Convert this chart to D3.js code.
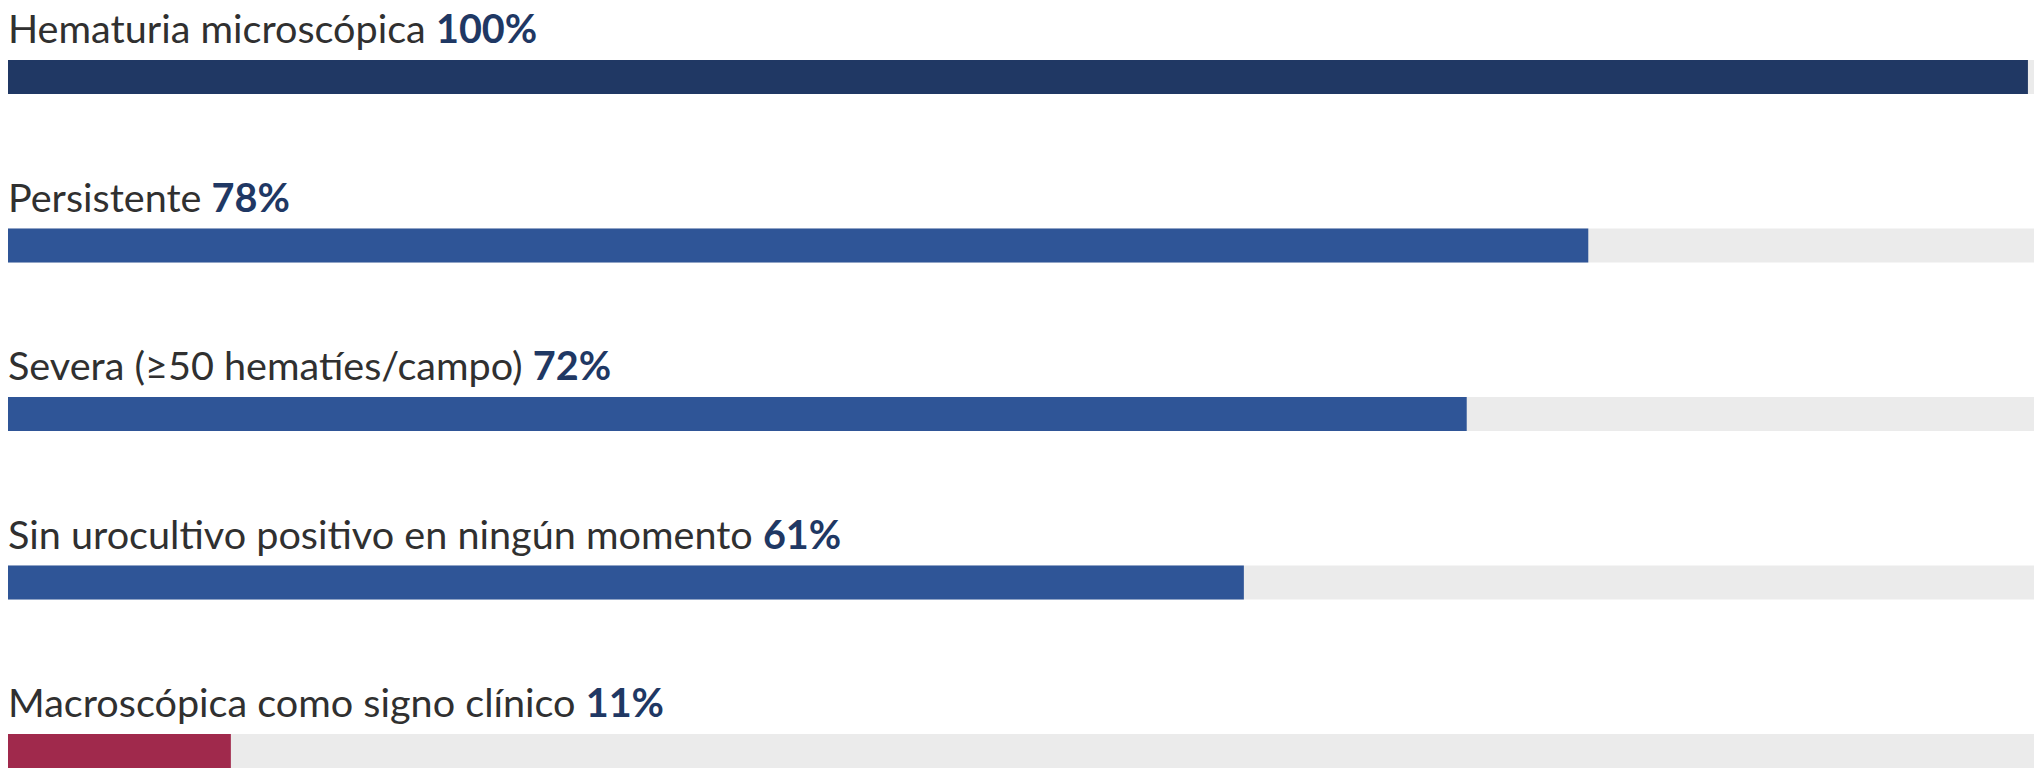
<!DOCTYPE html>
<html>
<head>
<meta charset="utf-8">
<script src="https://cdn.jsdelivr.net/npm/d3@7"></script>
<style>
  body { margin: 0; background: #fff; }
  svg { display: block; }
</style>
</head>
<body>
<div id="chart"></div>
<script>
// data
var categories = [
  'Hematuria microscópica',
  'Persistente',
  'Severa (≥50 hematíes/campo)',
  'Sin urocultivo positivo en ningún momento',
  'Macroscópica como signo clínico'
];
var values = [99.7, 78, 72, 61, 11];
var barColors = ['#203864', '#2F5597', '#2F5597', '#2F5597', '#A0294C'];

var w = 2040,
    h = 778;

var svg = d3.select('#chart')
    .append('svg')
    .attr('width', w)
    .attr('height', h);

var x = d3.scaleLinear()
    .domain([0, 100])
    .range([8, 2034]);

var y = d3.scalePoint()
    .domain(categories)
    .range([60, 734]);

var barH = 34;
var pct = function(v) { return Math.round(v) + '%'; };

var rows = svg.selectAll('.row')
    .data(categories)
    .enter()
    .append('g')
    .attr('class', 'row');

// grey track behind each bar
rows.append('rect')
    .attr('x', x(0))
    .attr('y', function(d) { return y(d); })
    .attr('width', x(100) - x(0))
    .attr('height', barH)
    .attr('fill', '#EBEBEB');

rows.append('rect')
    .attr('x', x(0))
    .attr('y', function(d) { return y(d); })
    .attr('width', function(d, i) { return x(values[i]) - x(0); })
    .attr('height', barH)
    .attr('fill', function(d, i) { return barColors[i]; });

var label = rows.append('text')
    .attr('x', x(0))
    .attr('y', function(d) { return y(d) - 17; })
    .style('font-family', 'Lato, "Open Sans", sans-serif')
    .style('font-size', '39.6px');

label.append('tspan')
    .attr('fill', '#303030')
    .text(function(d) { return d + ' '; });

label.append('tspan')
    .attr('fill', '#1F3864')
    .style('font-weight', 'bold')
    .text(function(d, i) { return pct(values[i]); });
</script>
</body>
</html>
